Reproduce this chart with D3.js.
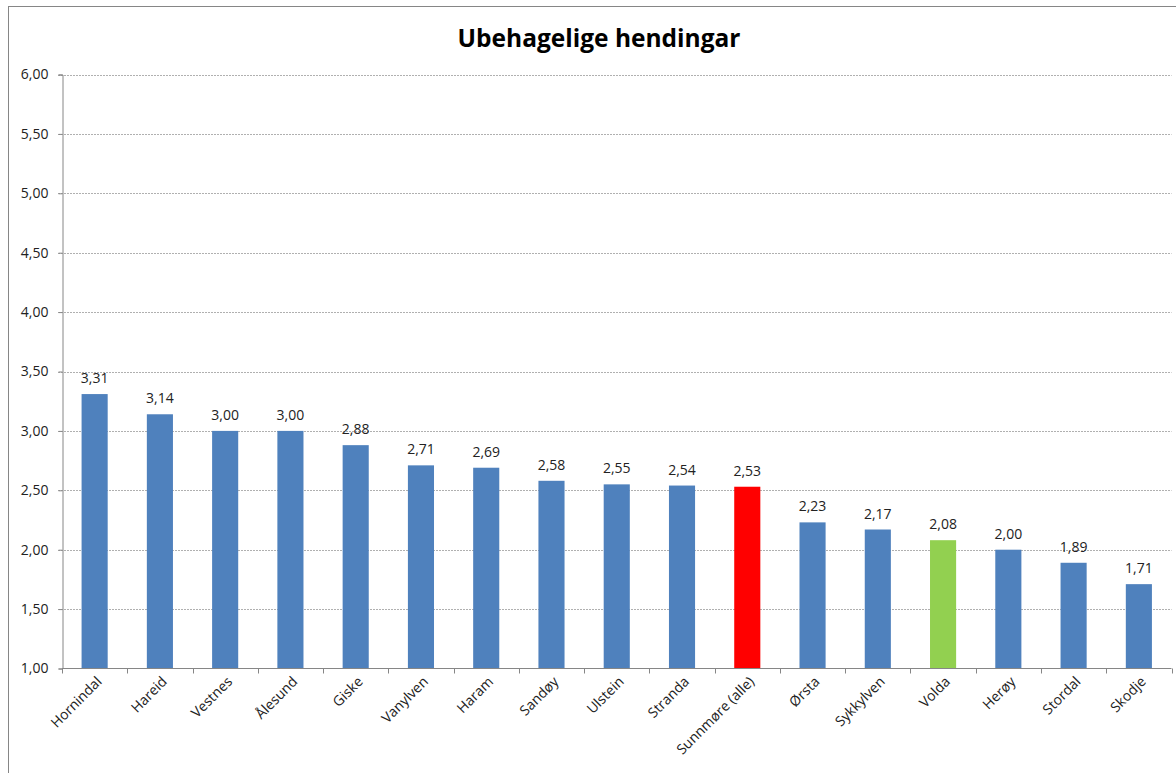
<!DOCTYPE html>
<html>
<head>
<meta charset="utf-8">
<script src="https://cdn.jsdelivr.net/npm/d3@7"></script>
<style>
  body { margin: 0; background: #fff; }
  text { font-family: "Open Sans", "Noto Sans", sans-serif; }
</style>
</head>
<body>
<div id="myChart"></div>
<script>
// Ubehagelige hendingar - bar chart per kommune

const categories = ["Hornindal", "Hareid", "Vestnes", "Ålesund", "Giske", "Vanylven", "Haram",
  "Sandøy", "Ulstein", "Stranda", "Sunnmøre (alle)", "Ørsta", "Sykkylven", "Volda",
  "Herøy", "Stordal", "Skodje"];
const values = [3.31, 3.14, 3.00, 3.00, 2.88, 2.71, 2.69, 2.58, 2.55, 2.54, 2.53, 2.23, 2.17,
  2.08, 2.00, 1.89, 1.71];
const yTicks = [1.0, 1.5, 2.0, 2.5, 3.0, 3.5, 4.0, 4.5, 5.0, 5.5, 6.0];
const highlight = { "Sunnmøre (alle)": "#FF0000", "Volda": "#92D050" };

const width = 1176, height = 773;
const fmt = v => d3.format(".2f")(v).replace(".", ",");

const svg = d3.select("#myChart")
  .append("svg")
    .attr("width", width)
    .attr("height", height);

// outer chart frame (runs off the right and bottom edge)
svg.append("rect")
  .attr("x", 8.5).attr("y", 6.5)
  .attr("width", 1200).attr("height", 800)
  .attr("fill", "none")
  .attr("stroke", "#868686");

svg.append("text")
  .attr("x", 599).attr("y", 47)
  .attr("text-anchor", "middle")
  .style("font-size", "24.5px")
  .style("font-weight", "bold")
  .text("Ubehagelige hendingar");

var x = d3.scaleBand()
  .domain(categories)
  .range([62, 1171.5])
  .paddingInner(0.6)
  .paddingOuter(0.3);

var y = d3.scaleLinear()
  .domain([1, 6])
  .range([668.5, 74.5]);

// gridlines
svg.append("g")
  .selectAll("line")
  .data(yTicks.slice(1))
  .enter()
  .append("line")
    .attr("x1", 58).attr("x2", 1171.5)
    .attr("y1", d => Math.round(y(d)) + 0.5)
    .attr("y2", d => Math.round(y(d)) + 0.5)
    .attr("stroke", "#b0b0b0")
    .attr("stroke-dasharray", "2,1");

// y axis
var yAxis = svg.append("g")
  .attr("transform", "translate(62.5,0)")
  .call(d3.axisLeft(y).tickValues(yTicks).tickSize(4).tickFormat(fmt));
yAxis.select(".domain").attr("stroke", "#868686");
yAxis.selectAll(".tick line").attr("stroke", "#868686");
yAxis.selectAll(".tick text")
  .attr("x", -14)
  .style("font-size", "14px")
  .attr("fill", "#222");

// bars
svg.append("g")
  .selectAll("rect")
  .data(values)
  .enter()
  .append("rect")
    .attr("x", (d, i) => x(categories[i]))
    .attr("y", d => y(d))
    .attr("width", x.bandwidth())
    .attr("height", d => y(1) - y(d))
    .attr("fill", (d, i) => highlight[categories[i]] || "#4F81BD");

// value labels
svg.append("g")
  .selectAll("text")
  .data(values)
  .enter()
  .append("text")
    .attr("x", (d, i) => x(categories[i]) + x.bandwidth() / 2)
    .attr("y", d => y(d) - 11)
    .attr("text-anchor", "middle")
    .style("font-size", "14px")
    .attr("fill", "#222")
    .text(fmt);

// x axis
var xAxis = svg.append("g")
  .attr("transform", "translate(0,668.5)");
xAxis.append("line")
  .attr("x1", 62).attr("x2", 1171.5)
  .attr("stroke", "#868686");
xAxis.selectAll(".tk")
  .data(d3.range(categories.length + 1))
  .enter()
  .append("line")
    .attr("x1", i => Math.round(62 + i * (1109.5 / categories.length)) + 0.5)
    .attr("x2", i => Math.round(62 + i * (1109.5 / categories.length)) + 0.5)
    .attr("y1", 0).attr("y2", 5)
    .attr("stroke", "#868686");
xAxis.selectAll("text")
  .data(categories)
  .enter()
  .append("text")
    .attr("transform", d => "translate(" + (x(d) + x.bandwidth() / 2 + 8) + ",14) rotate(-45)")
    .attr("text-anchor", "end")
    .style("font-size", "14px")
    .attr("fill", "#222")
    .text(d => d);
</script>
</body>
</html>
